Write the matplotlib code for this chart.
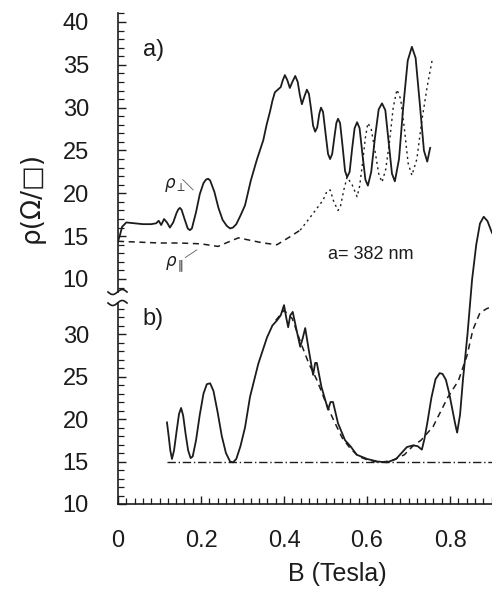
import numpy as np
import matplotlib
matplotlib.use("Agg")
import matplotlib.pyplot as plt
from matplotlib.ticker import MultipleLocator

plt.rcParams['font.family'] = ['Liberation Sans', 'DejaVu Sans']

# --- panel a) : rho_perp (solid) ---
a_perp_B = [0.000, 0.004, 0.010, 0.020, 0.040, 0.060, 0.080, 0.092, 0.098, 0.104,
            0.111, 0.118, 0.125, 0.133, 0.141, 0.145, 0.149, 0.153, 0.161, 0.168,
            0.173, 0.178, 0.188, 0.197, 0.206, 0.212, 0.217, 0.222, 0.232, 0.242,
            0.252, 0.262, 0.270, 0.277, 0.285, 0.295, 0.306, 0.320, 0.335, 0.350,
            0.358, 0.366, 0.372, 0.378, 0.385, 0.392, 0.397, 0.402, 0.408, 0.414,
            0.420, 0.427, 0.433, 0.438, 0.443, 0.449, 0.455, 0.460, 0.465, 0.470,
            0.475, 0.480, 0.485, 0.489, 0.494, 0.500, 0.506, 0.511, 0.516, 0.522,
            0.526, 0.530, 0.535, 0.541, 0.547, 0.552, 0.558, 0.564, 0.570, 0.576,
            0.582, 0.589, 0.596, 0.602, 0.610, 0.619, 0.628, 0.636, 0.644, 0.652,
            0.660, 0.667, 0.677, 0.687, 0.698, 0.708, 0.717, 0.727, 0.737, 0.745,
            0.752]
a_perp_rho = [14.4, 15.0, 16.1, 16.6, 16.5, 16.4, 16.4, 16.5, 16.8, 16.3,
              17.0, 16.6, 16.0, 16.6, 17.7, 18.1, 18.3, 18.1, 16.9, 15.9,
              15.7, 15.9, 17.8, 19.9, 21.2, 21.6, 21.7, 21.5, 20.2, 18.3,
              16.9, 16.2, 15.9, 16.0, 16.4, 17.4, 18.6, 21.5, 24.0, 26.2,
              28.0, 29.5, 30.8, 31.8, 32.1, 32.4, 33.2, 33.8, 33.2, 32.3,
              33.0, 33.7, 33.0, 31.5, 30.4, 31.3, 32.1, 31.6, 29.9, 27.9,
              27.2, 27.7, 29.3, 30.0, 29.5, 27.0, 24.6, 24.0, 24.6, 26.8,
              28.2, 28.7, 28.2, 25.5, 22.6, 21.9, 22.5, 25.2, 27.6, 28.3,
              27.6, 24.5, 21.6, 20.9, 22.5, 26.5, 29.8, 30.5, 29.7, 26.0,
              22.3, 21.4, 24.0, 30.0, 35.5, 37.1, 35.8, 30.5, 25.0, 23.7,
              25.3]

# --- panel a) : rho_par (dashed, then dotted) ---
a_par_B = [0.000, 0.050, 0.100, 0.150, 0.200, 0.241, 0.265, 0.290, 0.320, 0.350,
           0.383, 0.410, 0.439]
a_par_rho = [14.4, 14.3, 14.2, 14.2, 14.1, 13.8, 14.3, 14.8, 14.5, 14.2,
             14.0, 14.8, 15.7]
a_par2_B = [0.439, 0.463, 0.480, 0.494, 0.503, 0.511, 0.520, 0.530, 0.536, 0.544,
            0.552, 0.564, 0.576, 0.582, 0.589, 0.596, 0.602, 0.610, 0.619, 0.628,
            0.636, 0.645, 0.654, 0.663, 0.672, 0.681, 0.690, 0.699, 0.708, 0.720,
            0.732, 0.745, 0.757]
a_par2_rho = [15.7, 17.2, 18.3, 19.2, 20.2, 20.4, 19.0, 18.0, 18.5, 20.4,
              21.9, 21.0, 19.6, 20.8, 23.5, 26.5, 28.2, 27.5, 25.0, 22.3,
              21.3, 22.8, 26.0, 30.0, 32.1, 31.0, 27.5, 23.5, 22.1, 24.0,
              28.5, 32.5, 35.6]

# --- panel b) : measured (solid) ---
b_meas_B = [0.118, 0.122, 0.126, 0.130, 0.135, 0.141, 0.147, 0.152, 0.157, 0.163,
            0.169, 0.175, 0.180, 0.188, 0.197, 0.206, 0.214, 0.222, 0.230, 0.240,
            0.250, 0.260, 0.270, 0.277, 0.285, 0.295, 0.306, 0.318, 0.338, 0.359,
            0.372, 0.383, 0.392, 0.400, 0.405, 0.410, 0.415, 0.421, 0.430, 0.439,
            0.445, 0.451, 0.460, 0.470, 0.475, 0.479, 0.490, 0.506, 0.512, 0.518,
            0.530, 0.547, 0.560, 0.575, 0.600, 0.625, 0.648, 0.670, 0.696, 0.711,
            0.722, 0.732, 0.738, 0.745, 0.755, 0.765, 0.775, 0.782, 0.790, 0.798,
            0.806, 0.812, 0.817, 0.824, 0.831, 0.842, 0.853, 0.863, 0.872, 0.881,
            0.890, 0.901]
b_meas_rho = [19.6, 18.0, 16.3, 15.3, 16.3, 18.5, 20.6, 21.3, 20.4, 18.2,
              16.3, 15.4, 15.6, 17.5, 20.5, 23.0, 24.1, 24.2, 23.3, 20.8,
              18.0, 16.0, 15.0, 14.9, 15.3, 16.8, 19.0, 22.6, 26.5, 29.6,
              31.0, 31.6, 32.2, 33.4, 32.0, 30.8, 32.2, 32.6, 30.5, 28.5,
              29.5, 30.7, 28.0, 25.2, 26.6, 26.6, 23.8, 21.1, 22.0, 22.0,
              19.5, 17.5, 16.8, 15.8, 15.3, 15.0, 14.9, 15.3, 16.7, 16.9,
              16.8, 16.4, 17.6, 19.5, 22.5, 24.7, 25.4, 25.3, 24.6, 23.0,
              21.0, 19.5, 18.4, 20.5, 24.6, 30.0, 36.4, 40.5, 43.0, 43.8,
              43.3, 41.9]

# --- panel b) : calculated (dashed) ---
b_calc_B = [0.380, 0.400, 0.420, 0.440, 0.460, 0.480, 0.500, 0.520, 0.540, 0.560,
            0.580, 0.600, 0.630, 0.660, 0.690, 0.710, 0.730, 0.759, 0.795, 0.820,
            0.841, 0.855, 0.872, 0.889, 0.900]
b_calc_rho = [31.6, 32.8, 31.8, 29.0, 26.5, 24.5, 22.0, 19.8, 17.8, 16.5,
              15.6, 15.2, 14.9, 15.1, 15.8, 16.8, 17.5, 19.1, 22.6, 24.5,
              27.5, 30.5, 32.5, 33.0, 33.2]

b_base_B = [0.118, 0.901]
b_base_rho = [15.0, 15.0]

W, H = 492, 589
fig = plt.figure(figsize=(W / 100, H / 100), dpi=100)
ink = '#1c1c1c'

left = 118 / W
width = (W - 118) / W
ax1 = fig.add_axes([left, 1 - 292 / H, width, 279 / H])
ax2 = fig.add_axes([left, 1 - 504 / H, width, 201 / H])

for ax in (ax1, ax2):
    for s in ('top', 'right'):
        ax.spines[s].set_visible(False)
    ax.spines['left'].set_linewidth(1.2)
    ax.spines['left'].set_color(ink)
    ax.set_facecolor('none')
    ax.set_xlim(0, 0.901)
    ax.yaxis.set_major_locator(MultipleLocator(5))
    ax.yaxis.set_minor_locator(MultipleLocator(1))
    ax.tick_params(axis='y', which='major', direction='in', length=6, width=1.0,
                   pad=21, labelsize=17, colors=ink)
    ax.tick_params(axis='y', which='minor', direction='in', length=4, width=0.9,
                   colors=ink)

ax1.spines['bottom'].set_visible(False)
ax1.set_xticks([])
ax1.set_ylim(8.48, 41.05)
ax1.set_yticks([10, 15, 20, 25, 30, 35, 40])

ax2.spines['bottom'].set_linewidth(1.2)
ax2.spines['bottom'].set_color(ink)
ax2.set_ylim(10, 33.65)
ax2.set_yticks([10, 15, 20, 25, 30])
ax2.set_xticks([0, 0.2, 0.4, 0.6, 0.8])
ax2.set_xticklabels(['0', '0.2', '0.4', '0.6', '0.8'])
ax2.xaxis.set_minor_locator(MultipleLocator(0.02))
ax2.tick_params(axis='x', which='major', direction='in', length=6, width=1.0,
                pad=19, labelsize=17, colors=ink)
ax2.tick_params(axis='x', which='minor', direction='in', length=4, width=0.9,
                colors=ink)

# curves
ax1.plot(a_perp_B, a_perp_rho, color=ink, lw=1.3)
ax1.plot(a_par_B, a_par_rho, color=ink, lw=1.1, ls=(0, (4, 3)))
ax1.plot(a_par2_B, a_par2_rho, color=ink, lw=1.0, ls=(0, (1.5, 2.5)))

ax2.plot(b_meas_B, b_meas_rho, color=ink, lw=1.3, clip_on=False)
ax2.plot(b_calc_B, b_calc_rho, color=ink, lw=1.1, ls=(0, (4, 3)), clip_on=False)
ax2.plot(b_base_B, b_base_rho, color=ink, lw=1.0, ls=(0, (6, 2, 1, 2)))

# labels
ax1.text(0.085, 36.7, 'a)', fontsize=17, color=ink, ha='center', va='center')
ax2.text(0.085, 31.8, 'b)', fontsize=17, color=ink, ha='center', va='center')
ax1.text(0.608, 12.9, 'a= 382 nm', fontsize=13, color=ink, ha='center', va='center')

ax1.text(0.137, 21.0, r'$\rho_{\perp}$', fontsize=12, color=ink, ha='center', va='center')
ax1.plot([0.156, 0.181], [21.6, 20.4], color=ink, lw=0.6, alpha=0.7)
ax1.text(0.137, 11.7, r'$\rho_{\parallel}$', fontsize=12, color=ink, ha='center', va='center')
ax1.plot([0.162, 0.190], [12.5, 13.4], color=ink, lw=0.6, alpha=0.7)

fig.text(32 / W, 1 - 197 / H, 'ρ(Ω/□)', rotation=90,
         fontsize=19, color=ink, ha='center', va='center',
         family=['DejaVu Sans'])
fig.text(337 / W, 1 - 574 / H, 'B (Tesla)', fontsize=18, color=ink,
         ha='center', va='center')

# axis break marks
t = np.linspace(0, 1, 40)
for yb in (292, 303):
    xs = (108 + 19 * t) / W
    ys = 1 - (yb + 2.5 * np.sin(2 * np.pi * t)) / H
    fig.add_artist(plt.Line2D(xs, ys, color=ink, lw=1.2))

fig.savefig('out.png', dpi=100, facecolor='white')
